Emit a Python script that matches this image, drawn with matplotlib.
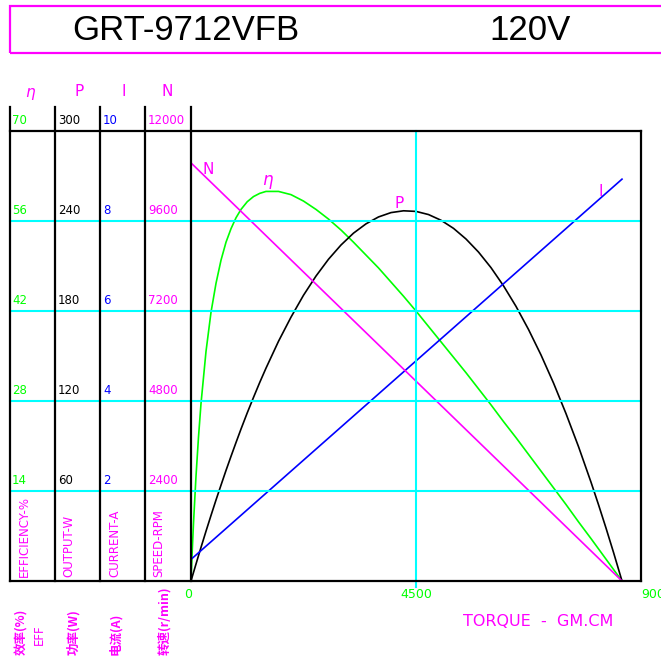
import matplotlib
matplotlib.use("Agg")
import matplotlib.pyplot as plt
from matplotlib.lines import Line2D
from matplotlib.patches import Rectangle
import matplotlib.transforms as mtransforms

# ---------------- data ----------------
torque = [0, 10, 25, 50, 100, 150, 200, 300, 400, 500, 600, 700, 800, 900, 1000,
          1125, 1250, 1375, 1500, 1750, 2000, 2250, 2500, 2750, 3000, 3250, 3500,
          3750, 4000, 4250, 4500, 4750, 5000, 5250, 5500, 5750, 6000, 6250, 6500,
          6750, 7000, 7250, 7500, 7750, 8000, 8150, 8300, 8450, 8620]
efficiency = [0, 1.95, 4.7, 9.0, 16.3, 22.4, 27.6, 35.7, 41.8, 46.3, 49.9, 52.7,
              54.8, 56.5, 57.8, 59.0, 59.8, 60.3, 60.6, 60.6, 60.1, 59.1, 57.8,
              56.3, 54.6, 52.7, 50.7, 48.7, 46.5, 44.3, 42.0, 39.6, 37.2, 34.8,
              32.4, 29.9, 27.4, 24.8, 22.3, 19.7, 17.1, 14.5, 11.9, 9.2, 6.6, 5.0,
              3.4, 1.8, 0]
output_w = [0, 1.1, 2.9, 5.7, 11.3, 16.9, 22.4, 33.2, 43.7, 54.0, 63.9, 73.7,
            83.1, 92.3, 101.3, 112.1, 122.4, 132.4, 141.9, 159.8, 175.9, 190.5,
            203.3, 214.5, 224.0, 231.9, 238.1, 242.7, 245.6, 246.8, 246.4, 244.3,
            240.5, 235.1, 228.0, 219.3, 208.9, 196.8, 183.1, 167.7, 150.7, 132.0,
            111.6, 89.6, 65.9, 50.9, 35.3, 19.1, 0]
current_torque = [0, 8620]
current_a = [0.48, 8.93]
speed_torque = [0, 8620]
speed_rpm = [11150, 0]

eff_ticks = [14, 28, 42, 56, 70]
pow_ticks = [60, 120, 180, 240, 300]
cur_ticks = [2, 4, 6, 8, 10]
spd_ticks = [2400, 4800, 7200, 9600, 12000]
x_ticks = [0, 4500, 9000]

title_model = "GRT-9712VFB"
title_volt = "120V"

GREEN = "#00FF00"
MAGENTA = "#FF00FF"
BLUE = "#0000FF"
CYAN = "#00FFFF"
BLACK = "#000000"

plt.rcParams['font.family'] = ['DejaVu Sans']

W, H = 661, 658
fig = plt.figure(figsize=(W / 100, H / 100), dpi=100)


def fx(x):
    return x / W


def fy(y):
    return 1 - y / H


# main axes (efficiency scale)
L, R, T, B = 191, 641, 131, 581
ax = fig.add_axes([fx(L), fy(B), (R - L) / W, (B - T) / H])
ax.set_xlim(0, 9000)
ax.set_ylim(0, 70)
ax.set_xticks([])
ax.set_yticks([])
for s in ax.spines.values():
    s.set_visible(False)
ax.patch.set_alpha(0)

ax_p = ax.twinx(); ax_p.set_ylim(0, 300)
ax_i = ax.twinx(); ax_i.set_ylim(0, 10)
ax_n = ax.twinx(); ax_n.set_ylim(0, 12000)
for a in (ax_p, ax_i, ax_n):
    a.set_axis_off()

# grid lines (cyan), extended over the left columns
bl = mtransforms.blended_transform_factory(fig.transFigure, ax.transData)
for v in eff_ticks[:-1]:
    fig.add_artist(Line2D([fx(10), fx(R)], [v, v], transform=bl, color=CYAN, lw=1.5, zorder=1))
# vertical cyan line at 4500
bx = mtransforms.blended_transform_factory(ax.transData, fig.transFigure)
fig.add_artist(Line2D([x_ticks[1], x_ticks[1]], [fy(T), fy(587)], transform=bx,
                      color=CYAN, lw=1.5, zorder=1))

# frame lines (black)
frame = dict(color=BLACK, lw=1.6, zorder=3, solid_capstyle='projecting')
fig.add_artist(Line2D([fx(10), fx(R)], [fy(T), fy(T)], **frame))
fig.add_artist(Line2D([fx(10), fx(R)], [fy(B), fy(B)], **frame))
fig.add_artist(Line2D([fx(R), fx(R)], [fy(T), fy(B)], **frame))
for xv in [10, 55, 100, 145, 191]:
    fig.add_artist(Line2D([fx(xv), fx(xv)], [fy(107), fy(B)], **frame))

# curves
ax.plot(torque, efficiency, color=GREEN, lw=1.2, zorder=4)
ax_p.plot(torque, output_w, color=BLACK, lw=1.2, zorder=4)
ax_i.plot(current_torque, current_a, color=BLUE, lw=1.2, zorder=4)
ax_n.plot(speed_torque, speed_rpm, color=MAGENTA, lw=1.2, zorder=4)

# curve labels
fig.text(fx(208), fy(170), "N", color=MAGENTA, fontsize=11, ha='center', va='center')
fig.text(fx(267), fy(180), "η", color=MAGENTA, fontsize=12, ha='center', va='center', style='italic')
fig.text(fx(399), fy(204), "P", color=MAGENTA, fontsize=11, ha='center', va='center')
fig.text(fx(601), fy(191), "I", color=MAGENTA, fontsize=11, ha='center', va='center')

# left column tick labels
cols = [(ax, eff_ticks, 12, GREEN), (ax_p, pow_ticks, 58, BLACK),
        (ax_i, cur_ticks, 103, BLUE), (ax_n, spd_ticks, 148, MAGENTA)]
for a, ticks, xpos, col in cols:
    tr = mtransforms.blended_transform_factory(fig.transFigure, a.transData)
    tr = mtransforms.offset_copy(tr, fig=fig, x=0, y=4, units='dots')
    for v in ticks:
        fig.text(xpos / W, v, f"{v}", transform=tr, color=col, fontsize=8.5,
                 ha='left', va='bottom')

# column headers
for txt, xc in [("η", 30), ("P", 79), ("I", 124), ("N", 167)]:
    fig.text(fx(xc), fy(92), txt, color=MAGENTA, fontsize=11, ha='center', va='center',
             style='italic' if txt == "η" else 'normal')

# rotated column titles
for txt, xc in [("EFFICIENCY-%", 24), ("OUTPUT-W", 69), ("CURRENT-A", 115), ("SPEED-RPM", 159)]:
    fig.text(fx(xc), fy(577), txt, color=MAGENTA, fontsize=8.5, rotation=90,
             ha='center', va='bottom')

# Chinese labels below
cjk = ['Noto Sans CJK SC', 'DejaVu Sans']
for txt, xc, yt in [("效率(%)", 22, 655), ("功率(W)", 73, 655), ("电流(A)", 115, 655), ("转速(r/min)", 164, 655)]:
    fig.text(fx(xc), fy(yt), txt, color=MAGENTA, fontsize=9, rotation=90, ha='center',
             va='bottom', family=cjk, fontweight='bold')
fig.text(fx(39), fy(635), "EFF", color=MAGENTA, fontsize=8.5, rotation=90, ha='center', va='center')

# x tick labels
bxt = mtransforms.blended_transform_factory(ax.transData, fig.transFigure)
fig.text(x_ticks[0], fy(594), f"{x_ticks[0]}",
         transform=mtransforms.offset_copy(bxt, fig=fig, x=-3, y=0, units='dots'),
         color=GREEN, fontsize=9, ha='center', va='center')
fig.text(x_ticks[1], fy(594), f"{x_ticks[1]}", transform=bxt, color=GREEN, fontsize=9,
         ha='center', va='center')
fig.text(x_ticks[2], fy(594), f"{x_ticks[2]}", transform=bxt, color=GREEN, fontsize=9,
         ha='left', va='center')

fig.text(fx(463), fy(621), "TORQUE  -  GM.CM", color=MAGENTA, fontsize=11.5, ha='left', va='center')

# title box
fig.add_artist(Rectangle((fx(10), fy(53)), fx(700) - fx(10), fy(6) - fy(53),
                         transform=fig.transFigure, fill=False, edgecolor=MAGENTA, lw=1.6))
fig.text(fx(72), fy(31), title_model, fontsize=25, family='Liberation Sans', ha='left', va='center')
fig.text(fx(489), fy(31), title_volt, fontsize=25, family='Liberation Sans', ha='left', va='center')

fig.savefig("out.png", dpi=100)
